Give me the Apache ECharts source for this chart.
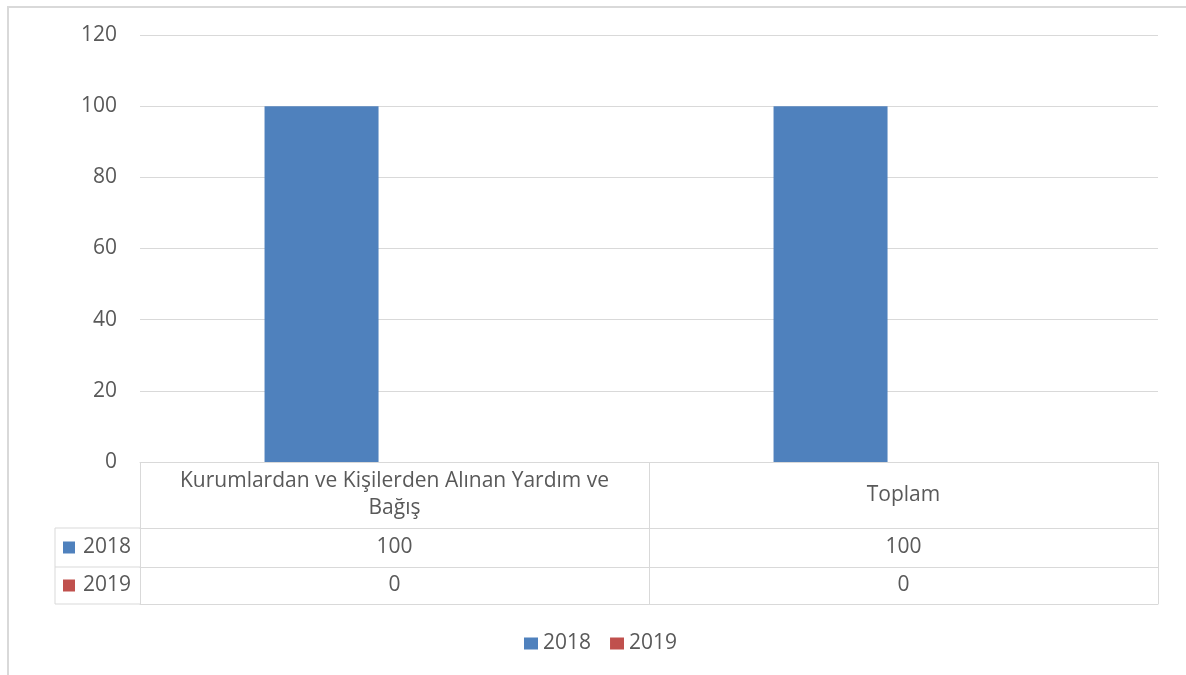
<!DOCTYPE html>
<html>
<head>
<meta charset="utf-8">
<script src="https://cdn.jsdelivr.net/npm/echarts@6/dist/echarts.min.js"></script>
<style>html,body{margin:0;padding:0;background:#fff;}#c{width:1186px;height:675px;}</style>
</head>
<body>
<div id="c"></div>
<script>
const categories = ['Kurumlardan ve Kişilerden Alınan Yardım ve Bağış', 'Toplam'];
const seriesNames = ['2018', '2019'];
const values2018 = [100, 100];
const values2019 = [0, 0];
const yTicks = [0, 20, 40, 60, 80, 100, 120];

const colors = ['#4f81bd', '#c0504d'];
const textColor = '#595959';
const lineColor = '#d9d9d9';
const FONT = '"Open Sans"';
const FS = 21;

const chart = echarts.init(document.getElementById('c'), null, {renderer: 'canvas'});

const gridLeft = 140, gridTop = 35, gridBottomY = 462, gridRightX = 1158;
const rowY = [528, 567, 604];
const tableLeft = 55;

// word-wrap a label to a maximum pixel width
const measureCtx = document.createElement('canvas').getContext('2d');
function wrapText(text, maxWidth) {
  measureCtx.font = FS + 'px ' + FONT;
  const words = text.split(' ');
  const lines = [];
  let cur = '';
  for (const w of words) {
    const test = cur ? cur + ' ' + w : w;
    if (cur && measureCtx.measureText(test).width > maxWidth) {
      lines.push(cur);
      cur = w;
    } else {
      cur = test;
    }
  }
  if (cur) lines.push(cur);
  return lines.join('\n');
}

function rowLabel(name, color, top, bottom) {
  const cy = (top + bottom) / 2;
  return [
    {type: 'rect', shape: {x: 63, y: cy - 6, width: 12, height: 12}, style: {fill: color}, silent: true},
    {type: 'text', x: 83, y: cy, style: {text: name, fill: textColor, font: FS + 'px ' + FONT, verticalAlign: 'middle', align: 'left'}, silent: true}
  ];
}

const option = {
  animation: false,
  backgroundColor: '#fff',
  color: colors,
  textStyle: {fontFamily: FONT},
  grid: {left: gridLeft, top: gridTop, right: 1186 - gridRightX, bottom: 675 - gridBottomY, outerBoundsMode: 'none'},
  legend: {
    data: seriesNames,
    left: 524,
    top: 633,
    padding: 0,
    itemWidth: 14,
    itemHeight: 12,
    itemGap: 19,
    icon: 'rect',
    textStyle: {color: textColor, fontSize: FS, fontFamily: FONT}
  },
  yAxis: {
    type: 'value',
    min: yTicks[0],
    max: yTicks[yTicks.length - 1],
    interval: yTicks[1] - yTicks[0],
    axisLine: {show: false},
    axisTick: {show: false},
    axisLabel: {color: textColor, fontSize: FS, fontFamily: FONT, margin: 23},
    splitLine: {lineStyle: {color: lineColor, width: 1}}
  },
  xAxis: [
    {
      type: 'category',
      data: categories,
      position: 'bottom',
      axisLine: {lineStyle: {color: lineColor, width: 1}},
      axisTick: {show: true, length: rowY[2] - gridBottomY, lineStyle: {color: lineColor, width: 1}, interval: 0},
      axisLabel: {
        interval: 0,
        color: textColor, fontSize: FS, fontFamily: FONT,
        margin: 33, verticalAlign: 'middle', lineHeight: 27, align: 'center',
        formatter: (v) => wrapText(v, 460)
      },
      splitLine: {show: false}
    },
    {
      type: 'category',
      data: categories,
      position: 'bottom',
      offset: rowY[0] - gridBottomY,
      axisLine: {lineStyle: {color: lineColor, width: 1}},
      axisTick: {show: false},
      axisLabel: {interval: 0, color: textColor, fontSize: FS, fontFamily: FONT, margin: (rowY[1] - rowY[0]) / 2, verticalAlign: 'middle',
        formatter: (v, i) => String(values2018[i])}
    },
    {
      type: 'category',
      data: categories,
      position: 'bottom',
      offset: rowY[1] - gridBottomY,
      axisLine: {lineStyle: {color: lineColor, width: 1}},
      axisTick: {show: false},
      axisLabel: {interval: 0, color: textColor, fontSize: FS, fontFamily: FONT, margin: (rowY[2] - rowY[1]) / 2, verticalAlign: 'middle',
        formatter: (v, i) => String(values2019[i])}
    },
    {
      type: 'category',
      data: categories,
      position: 'bottom',
      offset: rowY[2] - gridBottomY,
      axisLine: {lineStyle: {color: lineColor, width: 1}},
      axisTick: {show: false},
      axisLabel: {show: false}
    }
  ],
  series: [
    {name: seriesNames[0], type: 'bar', xAxisIndex: 0, data: values2018, barWidth: 114, barGap: '28%', itemStyle: {color: colors[0]}},
    {name: seriesNames[1], type: 'bar', xAxisIndex: 0, data: values2019, barWidth: 114, barGap: '28%', itemStyle: {color: colors[1]}}
  ],
  graphic: [
    {type: 'polyline', shape: {points: [[8, 675], [8, 7], [1186, 7]]}, style: {stroke: lineColor, lineWidth: 2, fill: null}, silent: true},
    {type: 'polyline', shape: {points: [[gridLeft, rowY[0]], [tableLeft, rowY[0]], [tableLeft, rowY[2]], [gridLeft, rowY[2]]]}, style: {stroke: lineColor, lineWidth: 1, fill: null}, silent: true},
    {type: 'line', shape: {x1: tableLeft, y1: rowY[1], x2: gridLeft, y2: rowY[1]}, style: {stroke: lineColor, lineWidth: 1}, silent: true},
    ...rowLabel(seriesNames[0], colors[0], rowY[0], rowY[1]),
    ...rowLabel(seriesNames[1], colors[1], rowY[1], rowY[2])
  ]
};

chart.setOption(option);
</script>
</body>
</html>
